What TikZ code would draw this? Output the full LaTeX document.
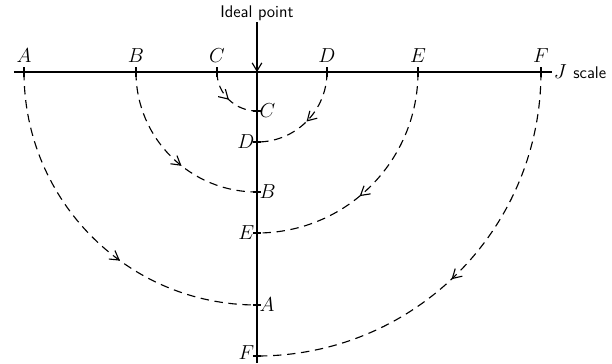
\documentclass[tikz,border=0pt]{standalone}
\usetikzlibrary{
    calc,
    arrows.meta,
    decorations.markings
}
\tikzset{
  every path/.style={
    black,
    line width=0.8pt
  },
  scalept/.style={
    inner sep=1.5pt,
    font=\Large
  },
  arcpath/.style={
    dash pattern=on 6pt off 4pt,
    postaction={decorate},
    decoration={markings,
      mark=at position #1 with {\arrow{Straight Barb[length=2.2mm,width=2.6mm]}}}
  },
  arcpath/.default=0.5
}

\begin{document}
\begin{tikzpicture}[x=0.025cm,y=0.025cm]
    \useasboundingbox (-257,-291) rectangle (355,72);

    % J 尺度と理想点からの軸
    \coordinate (O) at (0,0);
    \coordinate (L) at (-243,0);
    \coordinate (R) at (295,0);
    \coordinate (Bot) at (0,-291);
    \draw (L) -- (R);
    \draw (O) -- (Bot);
    \node[right,inner sep=1pt,font=\Large] (J) at (R) {$J$ \large\textsf{scale}};

    % 理想点
    \node[font=\large\sffamily,inner sep=1pt] (ideal) at (0,59) {Ideal point};
    \draw[-{Straight Barb[length=2mm,width=2.4mm]}] (ideal) -- (O);

    % 尺度上の点
    \foreach \n/\x in {A/-233,B/-121,C/-40,D/70,E/161,F/284} {
        \coordinate (t\n) at (\x,0);
        \draw ($(t\n)+(0,-5)$) -- ($(t\n)+(0,5)$);
        \node[scalept,anchor=south] (l\n) at ($(t\n)+(0,7)$) {$\n$};
    }

    % 折り畳んだ後の点
    \foreach \n/\r/\s/\dy in {C/39/right/0,D/70/left/0,B/120/right/0,E/161/left/0,A/233/right/0,F/284/left/3} {
        \coordinate (v\n) at (0,-\r);
        \draw ($(v\n)+(-4,0)$) -- ($(v\n)+(4,0)$);
        \node[scalept,\s] (m\n) at ($(v\n)+(0,\dy)$) {$\n$};
    }

    % 折り畳み
    \draw[arcpath=0.5]  (tC) to[out=-90,in=180] (vC);
    \draw[arcpath=0.57] (tB) to[out=-90,in=180] (vB);
    \draw[arcpath=0.6]  (tA) to[out=-90,in=180] (vA);
    \draw[arcpath=0.5]  (tD) to[out=-90,in=0] (vD);
    \draw[arcpath=0.56] (tE) to[out=-90,in=0] (vE);
    \draw[arcpath=0.52] (tF) to[out=-90,in=0] (vF);
\end{tikzpicture}
\end{document}
